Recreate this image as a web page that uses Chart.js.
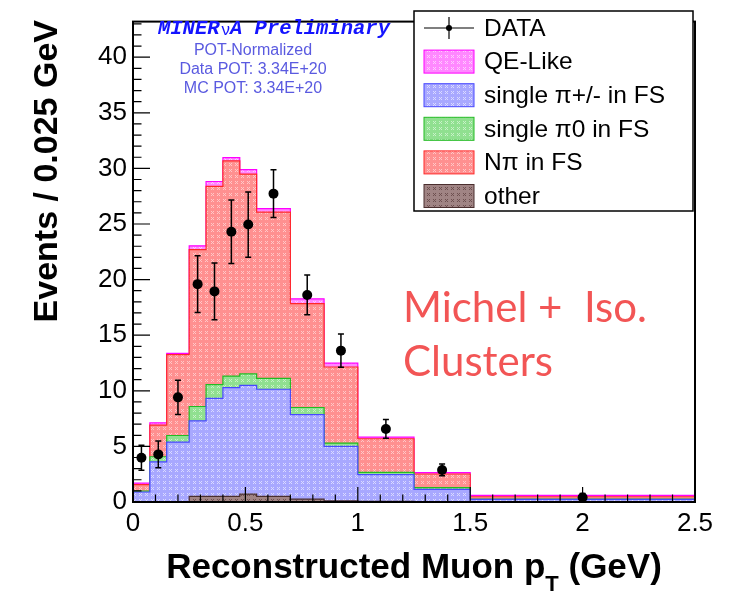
<!DOCTYPE html>
<html>
<head>
<meta charset="utf-8">
<script src="https://cdn.jsdelivr.net/npm/chart.js@4.4.1/dist/chart.umd.min.js"></script>
<style>
  html, body { margin: 0; padding: 0; background: #ffffff; }
  #wrap { width: 737px; height: 593px; }
</style>
</head>
<body>
<div id="wrap"><canvas id="ptChart" width="737" height="593"></canvas></div>
<script>
// bin edges in muon pT (GeV)
const binEdges = [0, 0.075, 0.15, 0.25, 0.325, 0.4, 0.475, 0.55, 0.7, 0.85, 1.0, 1.25, 1.5, 2.5];

// data, events / 0.025 GeV
const dataValues = [3.98, 4.28, 9.41, 19.59, 18.94, 24.30, 24.95, 27.73, 18.62, 13.61, 6.57, 2.88, 0.41];
const dataErrors = [1.13, 1.20, 1.54, 2.56, 2.55, 2.86, 2.93, 2.14, 1.79, 1.50, 0.84, 0.53, 0.35];

// MC components, bottom of the stack first
const otherMC = [0.02, 0.02, 0.03, 0.50, 0.50, 0.50, 0.70, 0.50, 0.25, 0.10, 0.05, 0.03, 0.01];
const singleChargedPiMC = [0.88, 3.59, 5.36, 6.80, 8.82, 9.79, 9.79, 9.64, 7.60, 4.91, 2.41, 1.11, 0.23];
const singleNeutralPiMC = [0.09, 0.46, 0.59, 1.29, 1.23, 1.03, 1.03, 0.97, 0.65, 0.29, 0.20, 0.15, 0.01];
const multiPiMC = [0.57, 2.85, 7.27, 14.10, 17.83, 19.35, 17.97, 14.95, 9.33, 6.84, 3.03, 1.23, 0.22];
const qeLikeMC = [0.14, 0.20, 0.12, 0.35, 0.44, 0.29, 0.39, 0.33, 0.44, 0.35, 0.14, 0.12, 0.12];

const xTicks = [0, 0.5, 1, 1.5, 2, 2.5];
const yTicks = [0, 5, 10, 15, 20, 25, 30, 35, 40];

// ROOT-ish dithered fill
function makePattern(base, dot) {
    const c = document.createElement('canvas');
    c.width = 6;
    c.height = 6;
    const g = c.getContext('2d');
    g.fillStyle = base;
    g.fillRect(0, 0, 6, 6);
    g.fillStyle = dot;
    [[1, 1], [3, 1], [2, 2], [1, 3], [3, 3]].forEach(p => g.fillRect(p[0], p[1], 1, 1));
    return g.createPattern(c, 'repeat');
}

const styles = {
    qe: { fill: makePattern('#ff88ff', '#ffccff'), line: '#ff00ff' },
    charged: { fill: makePattern('#a8a8ff', '#dadaff'), line: '#4848ff' },
    neutral: { fill: makePattern('#90e090', '#c8f2c8'), line: '#22bb22' },
    multi: { fill: makePattern('#ff9090', '#ffc8c8'), line: '#ff2828' },
    other: { fill: makePattern('#a08484', '#6e5050'), line: '#4a2e2e' }
};

function stepPoints(vals) {
    const pts = vals.map((v, i) => ({ x: binEdges[i], y: v }));
    pts.push({ x: binEdges[binEdges.length - 1], y: vals[vals.length - 1] });
    return pts;
}

// running sums for the stack
const layers = [otherMC, singleChargedPiMC, singleNeutralPiMC, multiPiMC, qeLikeMC];
const stackTops = [];
let running = binEdges.slice(0, -1).map(() => 0);
layers.forEach(layer => {
    running = running.map((v, i) => v + layer[i]);
    stackTops.push(running.slice());
});

function stackDataset(label, vals, st) {
    return {
        type: 'line',
        label: label,
        data: stepPoints(vals),
        stepped: 'before',
        fill: 'origin',
        backgroundColor: st.fill,
        borderColor: st.line,
        borderWidth: 1.2,
        pointRadius: 0
    };
}

const binCenters = binEdges.slice(0, -1).map((e, i) => (e + binEdges[i + 1]) / 2);

const SANS = '"Liberation Sans", Arial, sans-serif';
const MONO = 'italic bold 20.5px "Liberation Mono", "DejaVu Sans Mono", monospace';

const frameAndTicks = {
    id: 'frameAndTicks',
    afterDatasetsDraw(chart) {
        const ctx = chart.ctx;
        const xs = chart.scales.x;
        const ys = chart.scales.y;
        const a = chart.chartArea;

        // error bars on the data points
        ctx.save();
        ctx.strokeStyle = '#000000';
        ctx.lineWidth = 1.5;
        dataValues.forEach((v, i) => {
            const px = xs.getPixelForValue(binCenters[i]);
            const top = ys.getPixelForValue(v + dataErrors[i]);
            const bot = ys.getPixelForValue(Math.max(0, v - dataErrors[i]));
            ctx.beginPath();
            ctx.moveTo(px, top);
            ctx.lineTo(px, bot);
            ctx.moveTo(px - 3, top);
            ctx.lineTo(px + 3, top);
            ctx.moveTo(px - 3, bot);
            ctx.lineTo(px + 3, bot);
            ctx.stroke();
        });

        // inward ticks
        ctx.lineWidth = 1.2;
        ctx.beginPath();
        for (let i = 0; i <= 43; i++) {
            const py = ys.getPixelForValue(i);
            const len = i % 5 === 0 ? 17 : 8.5;
            ctx.moveTo(a.left, py);
            ctx.lineTo(a.left + len, py);
        }
        for (let i = 0; i <= 25; i++) {
            const px = xs.getPixelForValue(i / 10);
            const len = i % 5 === 0 ? 15 : 7.5;
            ctx.moveTo(px, a.bottom);
            ctx.lineTo(px, a.bottom - len);
        }
        ctx.stroke();

        ctx.lineWidth = 2;
        ctx.strokeRect(a.left, a.top, a.right - a.left, a.bottom - a.top);
        ctx.restore();
    },
    afterDraw(chart) {
        const ctx = chart.ctx;
        const a = chart.chartArea;
        ctx.save();

        // axis titles
        ctx.fillStyle = '#000000';
        const big = 'bold 35px ' + SANS;
        const sub = 'bold 22px ' + SANS;
        ctx.textBaseline = 'alphabetic';
        ctx.textAlign = 'left';
        const part1 = 'Reconstructed Muon p';
        const part2 = ' (GeV)';
        ctx.font = big;
        const w1 = ctx.measureText(part1).width;
        const w2 = ctx.measureText(part2).width;
        ctx.font = sub;
        const wSub = ctx.measureText('T').width;
        const tx = (a.left + a.right) / 2 - (w1 + wSub + w2) / 2;
        ctx.font = big;
        ctx.fillText(part1, tx, 578);
        ctx.fillText(part2, tx + w1 + wSub, 578);
        ctx.font = sub;
        ctx.fillText('T', tx + w1, 591);

        ctx.save();
        ctx.font = 'bold 34px ' + SANS;
        ctx.translate(57, 20);
        ctx.rotate(-Math.PI / 2);
        ctx.textAlign = 'right';
        ctx.fillText('Events / 0.025 GeV', 0, 0);
        ctx.restore();

        // experiment label: MINER, nu, A Preliminary
        ctx.textBaseline = 'middle';
        ctx.textAlign = 'left';
        ctx.fillStyle = '#1414ff';
        let mx = 158;
        ctx.font = MONO;
        ctx.fillText('MINER', mx, 29);
        mx += ctx.measureText('MINER').width + 2;
        ctx.font = '17px ' + SANS;
        ctx.fillText('\u03bd', mx, 30);
        mx += ctx.measureText('\u03bd').width;
        ctx.font = MONO;
        ctx.fillText('A Preliminary', mx, 29);

        ctx.textAlign = 'center';
        ctx.fillStyle = '#5a5ae0';
        ctx.font = '16px ' + SANS;
        ctx.fillText('POT-Normalized', 253, 51);
        ctx.fillText('Data POT: 3.34E+20', 253, 70);
        ctx.fillText('MC POT: 3.34E+20', 253, 89);

        // region note
        ctx.textAlign = 'left';
        ctx.fillStyle = '#f25555';
        ctx.font = '42px Lato, "Open Sans", sans-serif';
        ctx.fillText('Michel +  Iso.', 403, 308);
        ctx.fillText('Clusters', 403, 362);

        // legend box
        const lx = 414, ly = 11, lw = 279, lh = 200;
        ctx.fillStyle = '#ffffff';
        ctx.fillRect(lx, ly, lw, lh);
        ctx.strokeStyle = '#000000';
        ctx.lineWidth = 1.5;
        ctx.strokeRect(lx, ly, lw, lh);

        const entries = [
            { text: 'DATA', st: null },
            { text: 'QE-Like', st: styles.qe },
            { text: 'single \u03c0+/- in FS', st: styles.charged },
            { text: 'single \u03c00 in FS', st: styles.neutral },
            { text: 'N\u03c0 in FS', st: styles.multi },
            { text: 'other', st: styles.other }
        ];
        ctx.font = '24.5px ' + SANS;
        ctx.textBaseline = 'middle';
        entries.forEach((e, i) => {
            const cy = 28 + i * 33.6;
            if (e.st) {
                ctx.fillStyle = e.st.fill;
                ctx.fillRect(424, cy - 11.5, 50, 23);
                ctx.strokeStyle = e.st.line;
                ctx.lineWidth = 1;
                ctx.strokeRect(424, cy - 11.5, 50, 23);
            } else {
                ctx.strokeStyle = '#000000';
                ctx.lineWidth = 1.2;
                ctx.beginPath();
                ctx.moveTo(424, cy);
                ctx.lineTo(474, cy);
                ctx.moveTo(449, cy - 11);
                ctx.lineTo(449, cy + 11);
                ctx.stroke();
                ctx.fillStyle = '#000000';
                ctx.beginPath();
                ctx.arc(449, cy, 3, 0, Math.PI * 2);
                ctx.fill();
            }
            ctx.fillStyle = '#000000';
            ctx.fillText(e.text, 484, cy + 1);
        });
        ctx.restore();
    }
};

new Chart(document.getElementById('ptChart'), {
    type: 'scatter',
    data: {
        datasets: [
            {
                type: 'scatter',
                label: 'DATA',
                data: dataValues.map((v, i) => ({ x: binCenters[i], y: v })),
                pointRadius: 5,
                pointBackgroundColor: '#000000',
                pointBorderColor: '#000000',
                pointBorderWidth: 0
            },
            stackDataset('other', stackTops[0], styles.other),
            stackDataset('single \u03c0+/- in FS', stackTops[1], styles.charged),
            stackDataset('single \u03c00 in FS', stackTops[2], styles.neutral),
            stackDataset('N\u03c0 in FS', stackTops[3], styles.multi),
            stackDataset('QE-Like', stackTops[4], styles.qe)
        ]
    },
    options: {
        responsive: false,
        animation: false,
        devicePixelRatio: 1,
        layout: { padding: { top: 11, right: 42, left: 0, bottom: 0 } },
        plugins: {
            legend: { display: false },
            tooltip: { enabled: false }
        },
        scales: {
            x: {
                type: 'linear',
                min: 0,
                max: 2.5,
                afterFit(scale) { scale.height = 91; },
                afterBuildTicks(scale) { scale.ticks = xTicks.map(v => ({ value: v })); },
                grid: { display: false, drawTicks: false },
                border: { display: false },
                ticks: {
                    padding: 6,
                    color: '#000000',
                    autoSkip: false,
                    maxRotation: 0,
                    callback: v => String(v),
                    font: { family: SANS, size: 26 }
                }
            },
            y: {
                type: 'linear',
                min: 0,
                max: 43.2,
                afterFit(scale) { scale.width = 133; },
                afterBuildTicks(scale) { scale.ticks = yTicks.map(v => ({ value: v })); },
                grid: { display: false, drawTicks: false },
                border: { display: false },
                ticks: {
                    padding: 6,
                    color: '#000000',
                    callback: v => String(v),
                    font: { family: SANS, size: 26 }
                }
            }
        }
    },
    plugins: [frameAndTicks]
});
</script>
</body>
</html>
